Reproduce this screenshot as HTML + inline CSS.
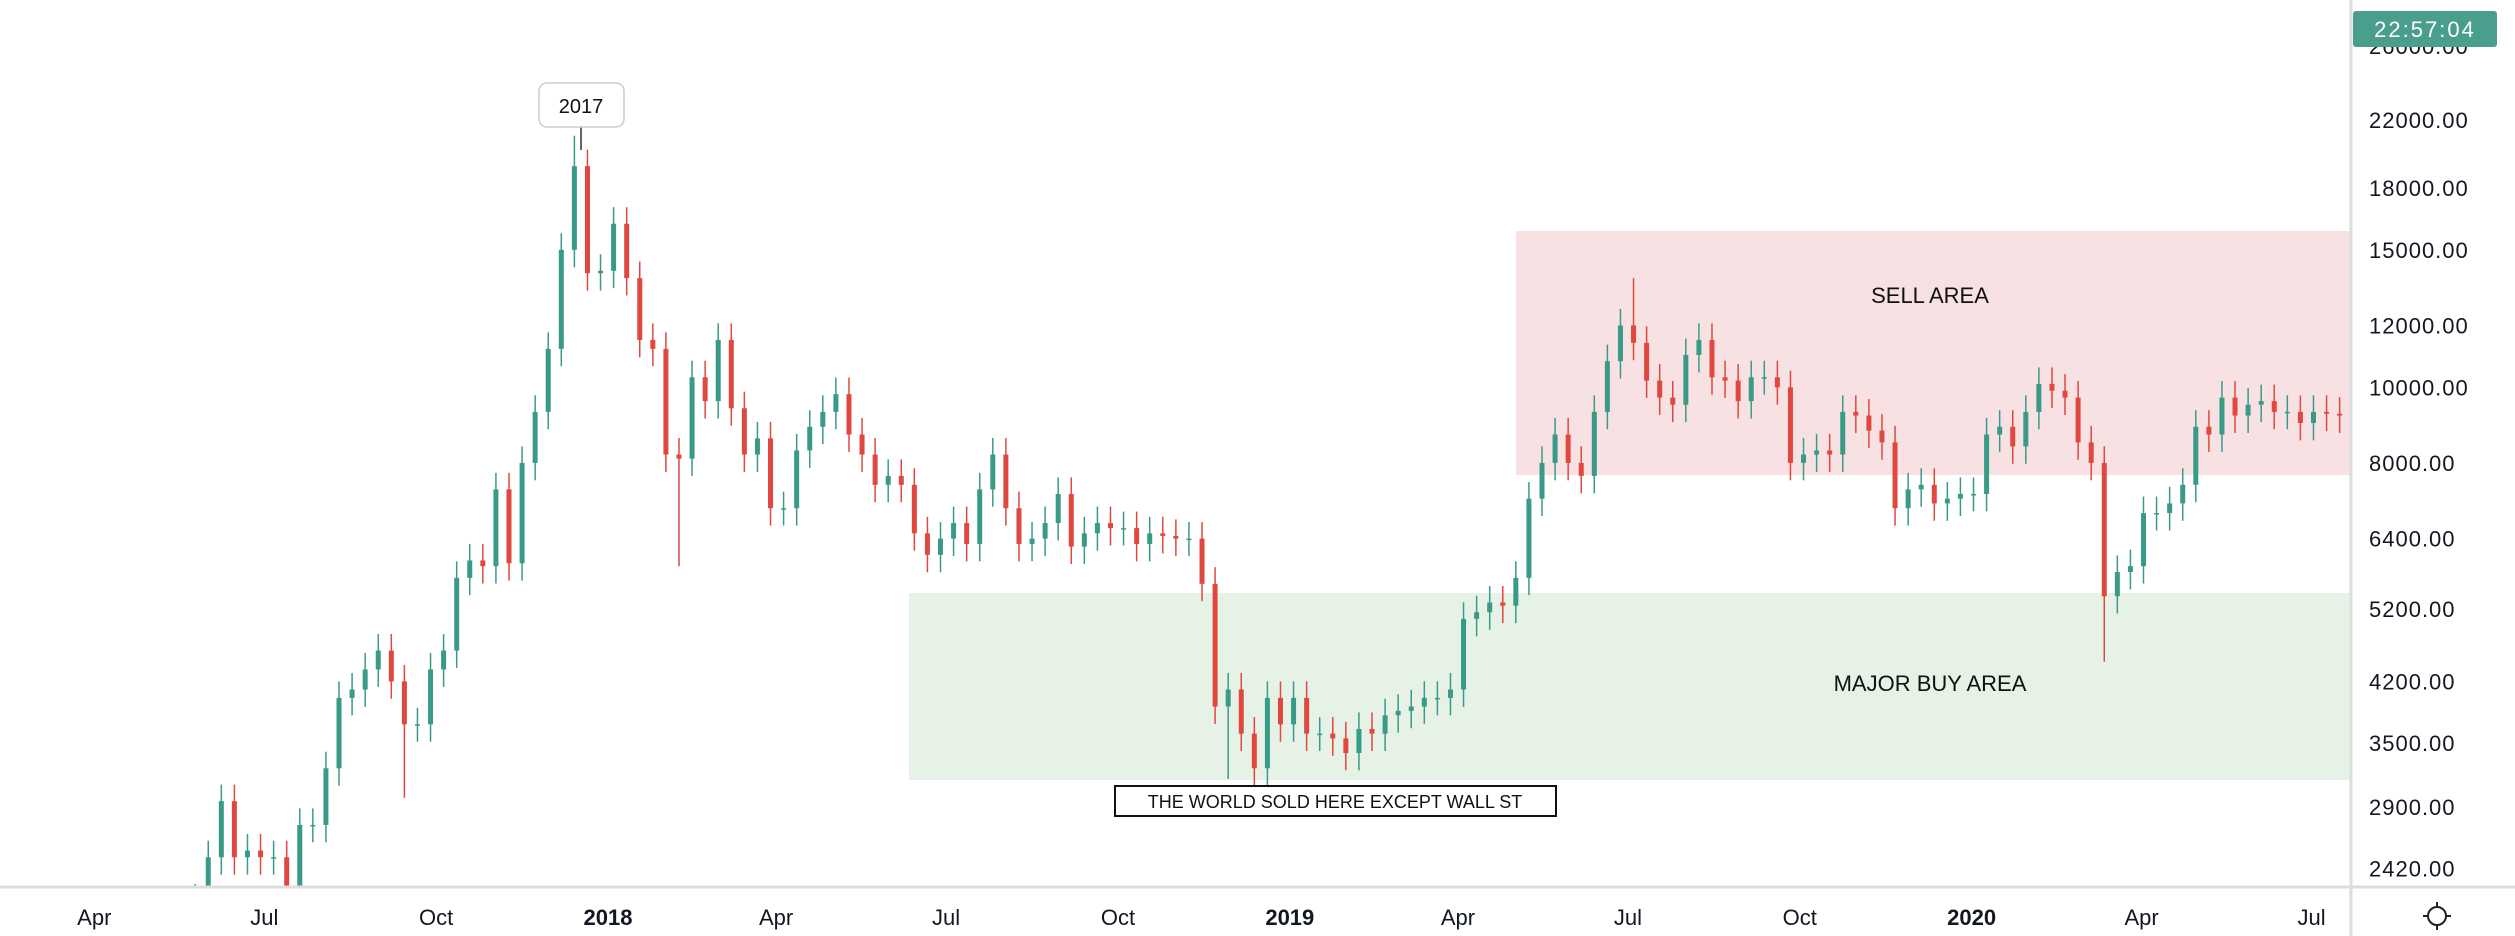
<!DOCTYPE html>
<html><head><meta charset="utf-8"><style>
body{margin:0;background:#fff;width:2515px;height:936px;overflow:hidden;font-family:"Liberation Sans",sans-serif}
svg{display:block}
</style></head><body>
<svg id="c" width="2515" height="936">
<defs><clipPath id="plot"><rect x="0" y="0" width="2350" height="886"/></clipPath></defs>
<rect x="1516" y="231" width="835" height="244" fill="#f7e1e3"/>
<rect x="909" y="593" width="1442" height="187" fill="#e6f2e6"/>
<text x="1930" y="303" font-size="22" text-anchor="middle" fill="#111">SELL AREA</text>
<text x="1930" y="691" font-size="22" text-anchor="middle" fill="#111">MAJOR BUY AREA</text>
<g id="candles" clip-path="url(#plot)"></g>
<line x1="581" y1="127" x2="581" y2="150" stroke="#333" stroke-width="1.5"/>
<rect x="539" y="83" width="85" height="44" rx="8" fill="#fff" stroke="#ccc" stroke-width="1.5"/>
<text x="581" y="113" font-size="20" text-anchor="middle" fill="#111">2017</text>
<rect x="1115" y="786" width="441" height="30" fill="#fff" stroke="#111" stroke-width="2"/>
<text x="1335" y="808" font-size="18" text-anchor="middle" fill="#111">THE WORLD SOLD HERE EXCEPT WALL ST</text>
<line x1="0" y1="887" x2="2515" y2="887" stroke="#ddd" stroke-width="3"/>
<line x1="2351" y1="0" x2="2351" y2="936" stroke="#ddd" stroke-width="3"/>
<g id="yaxis"></g>
<g id="xaxis"></g>
<rect x="2353" y="11" width="144" height="36" rx="3" fill="#4a9e8e"/>
<text x="2425" y="37" font-size="22" text-anchor="middle" fill="#fff" letter-spacing="2">22:57:04</text>
<g transform="translate(2437,916)" stroke="#222" stroke-width="2" fill="none">
<circle r="9"/><line x1="-14" y1="0" x2="-9" y2="0"/><line x1="9" y1="0" x2="14" y2="0"/><line x1="0" y1="-14" x2="0" y2="-9"/><line x1="0" y1="9" x2="0" y2="14"/>
</g>
</svg>
<script>
const startDate="2017-05-22";
const closes=[2200,2500,2950,2500,2550,2500,2500,1950,2750,2750,3250,4000,4100,4350,4600,4200,3700,3700,4350,4600,5700,6000,5900,7400,5950,8000,9300,11200,15000,19200,14000,14100,
16200,13800,11500,11200,8200,8100,10300,9600,11500,9400,8200,8600,7000,7000,8300,8900,9300,9800,8700,8200,7500,7700,7500,6500,6100,6400,6700,6300,7400,8200,7000,6300,6400,6700,7300,6250,6500,6700,6600,6600,6300,6500,6450,6400,6400,5600,3900,4100,3600,3250,4000,3700,
4000,3600,3600,3550,3400,3650,3600,3800,3850,3900,4000,4000,4100,5050,5150,5300,5250,5700,7200,8000,8700,8000,7700,9300,10800,12000,11400,10200,9700,9500,11000,11500,10300,10200,9600,10300,10300,10000,8000,8200,8300,8200,9300,9200,8800,8500,7000,7400,7500,7100,7200,7300,
7300,8700,8900,8400,9300,10100,9900,9700,8500,8000,5400,5800,5900,6900,6900,7100,7500,8900,8700,9700,9200,9500,9600,9300,9300,9000,9300,9250,9200,9300];
const spikeIdx=[16,29,37,79,110,146];
const spikeVal=[2980,21000,5900,3150,13800,4450];
const yTicks=[26000,22000,18000,15000,12000,10000,8000,6400,5200,4200,3500,2900,2420];
const xLabels=["Apr","Jul","Oct","2018","Apr","Jul","Oct","2019","Apr","Jul","Oct","2020","Apr","Jul"];
const xDates=["2017-04-01","2017-07-01","2017-10-01","2018-01-01","2018-04-01","2018-07-01","2018-10-01","2019-01-01","2019-04-01","2019-07-01","2019-10-01","2020-01-01","2020-04-01","2020-07-01"];
const NS="http://www.w3.org/2000/svg";
const Y=p=>120+339*Math.log(22000/p);
const base=Date.parse("2018-01-01");
const X=d=>608+(Date.parse(d)-base)/864e5*1.868;
const X0=X(startDate);
const g=document.getElementById('candles');
for(let i=0;i<closes.length;i++){
  const o=i?closes[i-1]:closes[0]*0.95,c=closes[i];
  let hi=Math.max(o,c)*1.05,lo=Math.min(o,c)*0.95;
  const k=spikeIdx.indexOf(i);
  if(k>=0){if(spikeVal[k]>Math.max(o,c))hi=spikeVal[k];else lo=spikeVal[k];}
  const x=X0+(i*7+3)*1.868, col=c>=o?'#3a9a88':'#e0483f';
  const w=document.createElementNS(NS,'line');
  
  
  w.setAttribute('x1',x);w.setAttribute('x2',x);
  w.setAttribute('y1',Y(hi));w.setAttribute('y2',Y(lo));
  w.setAttribute('stroke',col);w.setAttribute('stroke-width',1.5);g.appendChild(w);
  const r=document.createElementNS(NS,'rect');
  
  
  const yt=Y(Math.max(o,c)),yb=Y(Math.min(o,c));
  r.setAttribute('x',x-2.5);r.setAttribute('width',5);
  r.setAttribute('y',yt);r.setAttribute('height',Math.max(1.5,yb-yt));
  r.setAttribute('fill',col);g.appendChild(r);
}
const ya=document.getElementById('yaxis');
yTicks.forEach(v=>{
  const t=document.createElementNS(NS,'text');
  
  
  let yy=Y(v)+8; if(yy<90) yy=54;
  t.setAttribute('x',2369);t.setAttribute('y',yy);
  t.setAttribute('font-size',22);t.setAttribute('fill','#131722');t.setAttribute('letter-spacing','1');
  t.textContent=v+'.00';ya.appendChild(t);
});
const xa=document.getElementById('xaxis');
xLabels.forEach((l,i)=>{
  const t=document.createElementNS(NS,'text');
  
  
  t.setAttribute('x',X(xDates[i]));t.setAttribute('y',925);
  t.setAttribute('font-size',22);t.setAttribute('text-anchor','middle');t.setAttribute('fill','#131722');
  if(/^\d/.test(l))t.setAttribute('font-weight','bold');
  t.textContent=l;xa.appendChild(t);
});
</script>
</body></html>
